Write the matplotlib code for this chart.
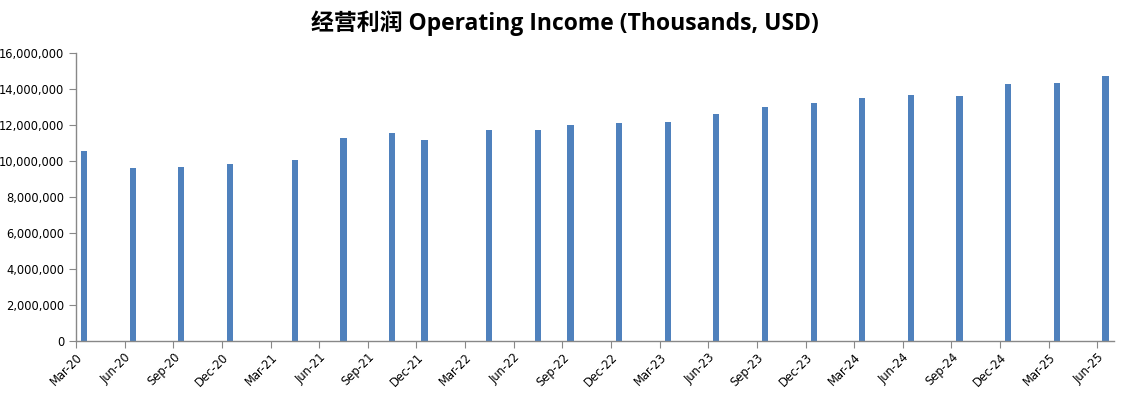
import matplotlib
matplotlib.use("Agg")
import matplotlib.pyplot as plt
from matplotlib.ticker import FuncFormatter

# quarter end periods (year, month) as plotted on the Excel date axis
periods = [(2020, 3), (2020, 6), (2020, 9), (2020, 12),
           (2021, 4), (2021, 7), (2021, 10), (2021, 12),
           (2022, 4), (2022, 7), (2022, 9), (2022, 12),
           (2023, 3), (2023, 6), (2023, 9), (2023, 12),
           (2024, 3), (2024, 6), (2024, 9), (2024, 12),
           (2025, 3), (2025, 6)]
income = [10560000, 9640000, 9700000, 9860000,
          10080000, 11300000, 11560000, 11190000,
          11740000, 11740000, 12020000, 12130000,
          12180000, 12630000, 13010000, 13240000,
          13510000, 13680000, 13620000, 14290000,
          14340000, 14730000]

tick_labels = ['Mar-20', 'Jun-20', 'Sep-20', 'Dec-20', 'Mar-21', 'Jun-21',
               'Sep-21', 'Dec-21', 'Mar-22', 'Jun-22', 'Sep-22', 'Dec-22',
               'Mar-23', 'Jun-23', 'Sep-23', 'Dec-23', 'Mar-24', 'Jun-24',
               'Sep-24', 'Dec-24', 'Mar-25', 'Jun-25']

start_year, start_month = periods[0]

def month_index(y, m):
    return (y - start_year) * 12 + (m - start_month)

# bars sit in the middle of their month slot
xs = [month_index(y, m) + 0.5 for y, m in periods]
n_months = month_index(*periods[-1]) + 1

fig = plt.figure(figsize=(11.29, 3.97), dpi=100)
ax = fig.add_axes([0.0673, 0.141, 0.919, 0.725])

ax.bar(xs, income, width=0.38, color='#4F81BD')

ax.set_xlim(0, n_months)
ax.set_ylim(0, 16000000)
ax.set_yticks(range(0, 16000001, 2000000))
ax.yaxis.set_major_formatter(FuncFormatter(lambda v, p: f'{int(v):,}'))

ax.set_xticks(range(0, n_months, 3))
ax.set_xticklabels(tick_labels, rotation=45, ha='right', va='top',
                   rotation_mode='anchor')

for s in ['top', 'right']:
    ax.spines[s].set_visible(False)
for s in ['left', 'bottom']:
    ax.spines[s].set_color('#888888')
    ax.spines[s].set_linewidth(1.0)
ax.tick_params(axis='both', colors='#888888', labelcolor='black',
               labelsize=8.3, length=5, direction='out')
ax.tick_params(axis='x', pad=2)
for lbl in ax.get_xticklabels():
    lbl.set_x(lbl.get_position()[0])

fig.suptitle('经营利润 Operating Income (Thousands, USD)', x=0.5, y=0.975,
             fontsize=16.5, fontweight='bold',
             family=['Open Sans', 'Noto Sans CJK SC'])

fig.savefig('out.png', dpi=100)
